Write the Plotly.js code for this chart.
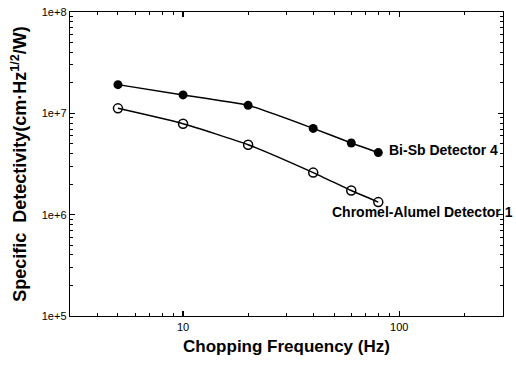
<!DOCTYPE html>
<html><head><meta charset="utf-8">
<script src="https://cdn.plot.ly/plotly-3.0.1.min.js"></script>
<style>html,body{margin:0;padding:0;background:#fff;}#chart{width:516px;height:365px;}</style>
</head><body><div id="chart"></div>
<script>
const freq = [5, 10, 20, 40, 60, 80];
const biSb = [1.92e7, 1.52e7, 1.2e7, 7.1e6, 5.1e6, 4.1e6];
const chromel = [1.12e7, 7.9e6, 4.9e6, 2.6e6, 1.73e6, 1.33e6];
const seriesNames = ['Bi-Sb Detector 4', 'Chromel-Alumel Detector 1'];
const yTickVals = [1e5, 1e6, 1e7, 1e8];
const yTickText = ['1e+5', '1e+6', '1e+7', '1e+8'];
const xTickVals = [10, 100];
const xTickText = ['10', '100'];

const fontFam = 'Liberation Sans, Arial, sans-serif';
const traces = [
  {x: freq, y: biSb, mode: 'lines+markers', line: {shape: 'spline', smoothing: 0.5, color: '#000', width: 1.5},
   marker: {symbol: 'circle', size: 9, color: '#000'}, name: seriesNames[0]},
  {x: freq, y: chromel, mode: 'lines+markers', line: {shape: 'spline', smoothing: 0.5, color: '#000', width: 1.5},
   marker: {symbol: 'circle-open', size: 9, color: '#000', line: {width: 1.5}}, name: seriesNames[1]}
];
const axisCommon = {
  type: 'log', showgrid: false, zeroline: false, showline: true, linecolor: '#000', linewidth: 1.3,
  mirror: 'allticks', ticks: 'inside', ticklen: 5, tickcolor: '#000', tickwidth: 1.2,
  minor: {ticks: 'inside', dtick: 'D1', ticklen: 3, tickcolor: '#000', tickwidth: 1, showgrid: false},
  tickfont: {family: fontFam, size: 11, color: '#000'}
};
const layout = {
  width: 516, height: 365,
  margin: {l: 70, r: 13, t: 12, b: 49},
  paper_bgcolor: '#fff', plot_bgcolor: '#fff',
  showlegend: false,
  xaxis: Object.assign({}, axisCommon, {
    range: [Math.log10(3), Math.log10(302)],
    tickvals: xTickVals, ticktext: xTickText,
    title: {text: 'Chopping Frequency (Hz)', font: {family: fontFam, size: 17, weight: 'bold', color: '#000'}, standoff: 8}
  }),
  yaxis: Object.assign({}, axisCommon, {
    range: [5, 8],
    tickvals: yTickVals, ticktext: yTickText,
    title: {text: 'Specific  Detectivity(cm·Hz<sup>1/2</sup>/W)', font: {family: fontFam, size: 18, weight: 'bold', color: '#000'}, standoff: 10}
  }),
  annotations: [
    {x: Math.log10(88), y: Math.log10(4.3e6), xref: 'x', yref: 'y', text: seriesNames[0], showarrow: false,
     xanchor: 'left', yanchor: 'middle', font: {family: fontFam, size: 14, weight: 'bold', color: '#000'}},
    {x: Math.log10(48), y: Math.log10(1.07e6), xref: 'x', yref: 'y', text: seriesNames[1], showarrow: false,
     xanchor: 'left', yanchor: 'middle', font: {family: fontFam, size: 14, weight: 'bold', color: '#000'}}
  ]
};
Plotly.newPlot('chart', traces, layout, {staticPlot: true});
</script></body></html>
